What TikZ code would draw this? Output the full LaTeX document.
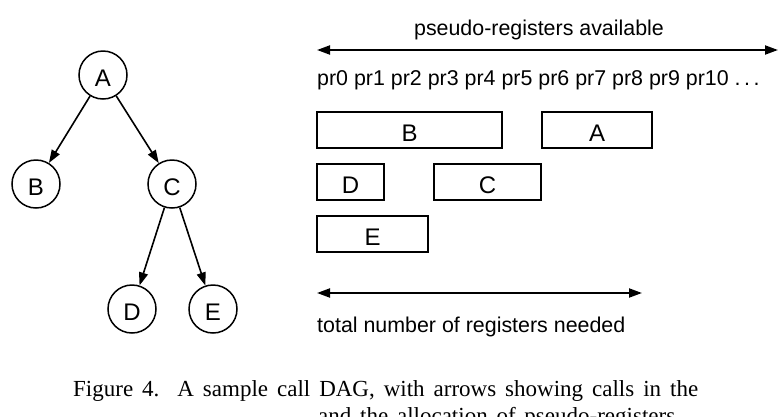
\documentclass[tikz,border=0pt]{standalone}
\usepackage{fontspec}
\setmainfont{Liberation Serif}
\newfontfamily\arialish{Liberation Sans}
\usetikzlibrary{arrows.meta}
\begin{document}
\begin{tikzpicture}[x=1pt,y=-1pt,
  lab/.style={font=\arialish\fontsize{21.4}{25}\selectfont},
  letter/.style={font=\arialish\fontsize{24}{28}\selectfont,text height=23.5pt,text depth=0pt},
  callnode/.style={circle,draw,line width=1.5pt,minimum size=48pt,inner sep=0pt,letter},
  regbox/.style={draw,line width=2pt,minimum height=36pt,inner sep=0pt,letter},
  callarrow/.style={line width=1.6pt,-{Triangle[length=13pt,width=9pt]}},
  spanarrow/.style={line width=2pt,{Triangle[length=13pt,width=9pt]}-{Triangle[length=13pt,width=9pt]}},
  captext/.style={font=\fontsize{23}{27}\selectfont,inner sep=0pt,anchor=base west},
]
\useasboundingbox (0,0) rectangle (778,416);
\clip (0,0) rectangle (778,416);

% call DAG
\node[callnode] (A) at (103,75) {A};
\node[callnode] (B) at (36,184) {B};
\node[callnode] (C) at (172,184) {C};
\node[callnode] (D) at (132,309) {D};
\node[callnode] (E) at (213,309) {E};
\draw[callarrow] (A) -- (B);
\draw[callarrow] (A) -- (C);
\draw[callarrow] (C) -- (D);
\draw[callarrow] (C) -- (E);

% pseudo-registers available
\coordinate (pa1) at (317,50);
\coordinate (pa2) at (778,50);
\draw[spanarrow] (pa1) -- (pa2);
\node[lab,anchor=base,inner sep=0pt] (avail) at (539,35) {pseudo-registers available};
\node[lab,anchor=base west,inner sep=0pt] (prs) at (317,85) {pr0 pr1 pr2 pr3 pr4 pr5 pr6 pr7 pr8 pr9 pr10 .\,.\,.};

% allocation boxes
\node[regbox,minimum width=185pt] (bB) at (409.5,130) {B};
\node[regbox,minimum width=110pt] (bA) at (597,130) {A};
\node[regbox,minimum width=67pt] (bD) at (350.5,182) {D};
\node[regbox,minimum width=107pt] (bC) at (487.5,182) {C};
\node[regbox,minimum width=111pt] (bE) at (372.5,234) {E};

% total needed
\coordinate (tn1) at (317,293);
\coordinate (tn2) at (642,293);
\draw[spanarrow] (tn1) -- (tn2);
\node[lab,anchor=base west,inner sep=0pt] (total) at (317,332) {total number of registers needed};

% caption
\node[captext] (cap1) at (73,396) {\makebox[625pt][s]{Figure 4.\ \ A sample call DAG, with arrows showing calls in the}};
\node[captext] (cap2) at (318,423.5) {\makebox[357pt][s]{and the allocation of pseudo-registers}};
\end{tikzpicture}
\end{document}
